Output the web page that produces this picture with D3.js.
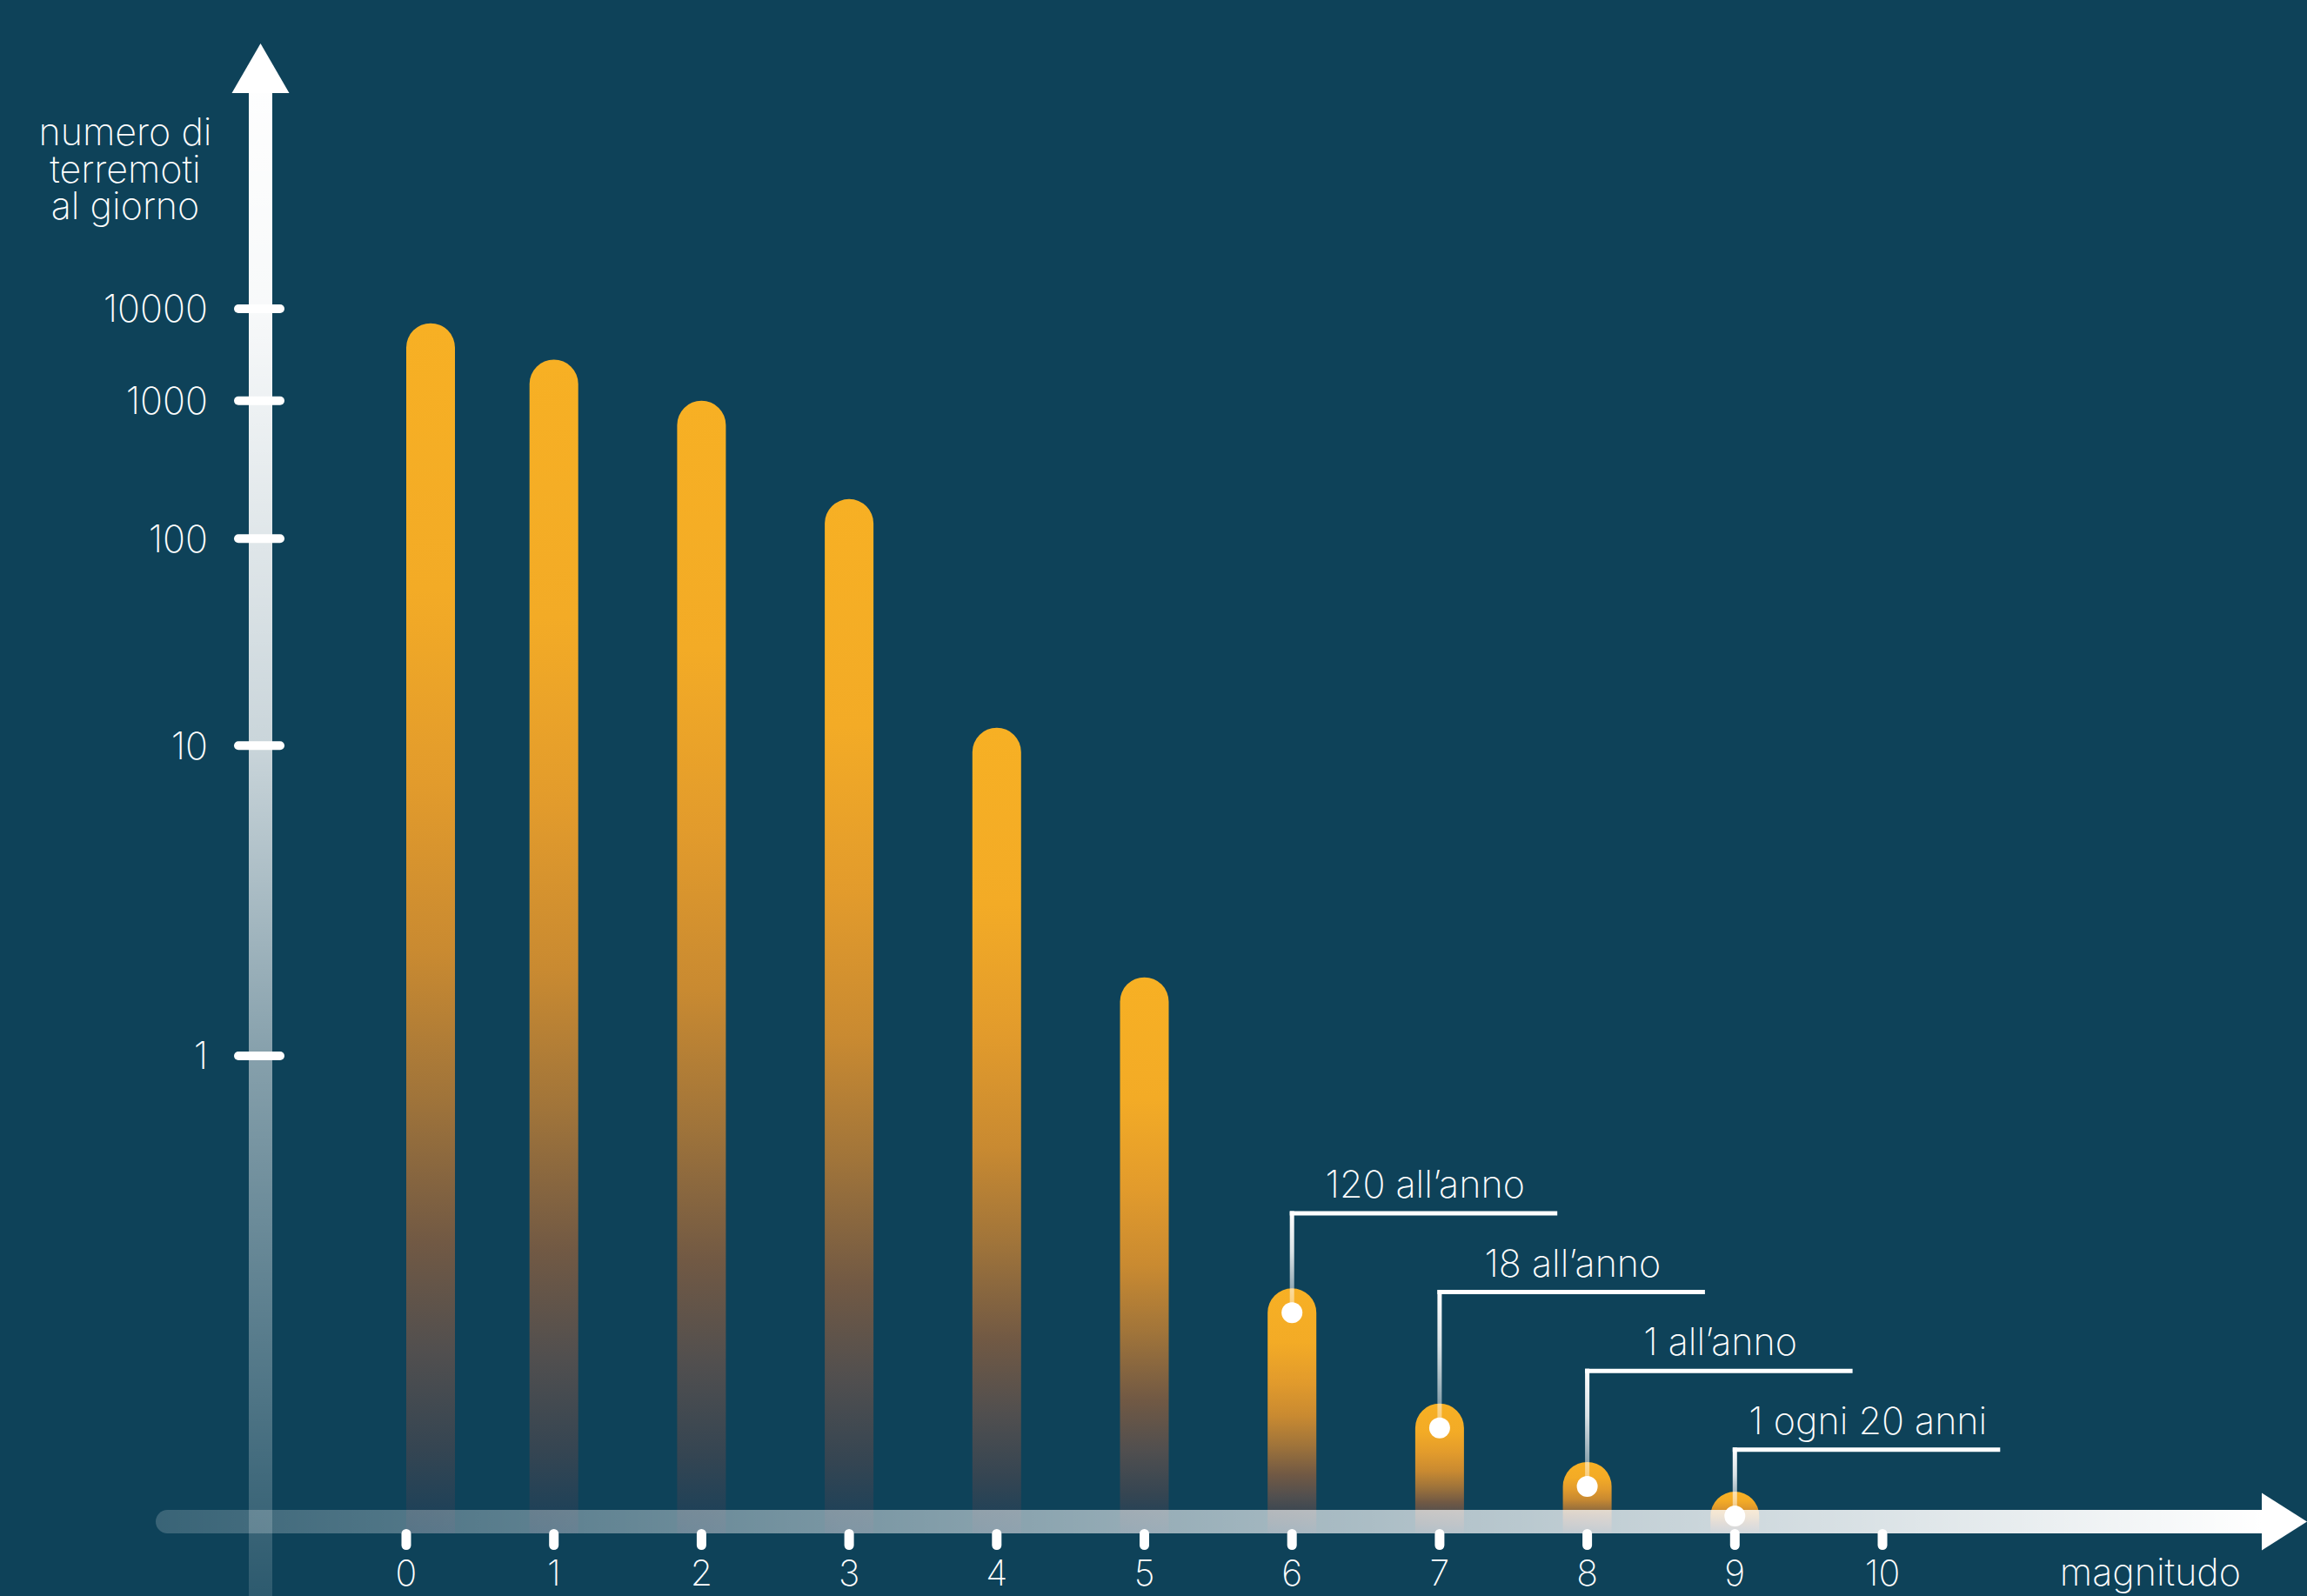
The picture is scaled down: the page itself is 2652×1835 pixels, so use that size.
<!DOCTYPE html>
<html><head><meta charset="utf-8">
<script src="https://cdn.jsdelivr.net/npm/d3@7"></script>
<style>
html,body{margin:0;padding:0;background:#0e4259;}
svg{display:block;}
text{font-family:Inter,"Open Sans",sans-serif;font-weight:200;fill:#ffffff;}
</style></head><body>
<svg id="chart" width="2652" height="1835"></svg>
<script>
// ---- data ----
const magnitudes = [0, 1, 2, 3, 4, 5, 6, 7, 8, 9];
const quakesPerDay = [6500, 2500, 1000, 177, 11.8, 1.65, 0.282, 0.165, 0.128, 0.113];
const xTickValues = [0, 1, 2, 3, 4, 5, 6, 7, 8, 9, 10];
const yTickValues = [1, 10, 100, 1000, 10000];
const yTickLabels = ["1", "10", "100", "1000", "10000"];
const annotatedMagnitudes = [6, 7, 8, 9];
const annotationLabels = ["120 all’anno", "18 all’anno", "1 all’anno", "1 ogni 20 anni"];
const yTitleLines = ["numero di", "terremoti", "al giorno"];
const xTitle = "magnitudo";

// ---- layout ----
const W = 2652, H = 1835;
const BG = "#0e4259";
const yAxisX = 299.5, xAxisY = 1749.5, axisThick = 27;
const barW = 56;
const fontSize = 43;

const svg = d3.select("#chart");
const defs = svg.append("defs");

svg.append("rect").attr("width", W).attr("height", H).attr("fill", BG);

const x = d3.scaleLinear().domain([0, 10]).range([467, 2164]);
const y = d3.scalePow().exponent(-Math.log10(1.5)).domain([1, 10000]).range([1214, 355]);

// gradients
const barGrad = defs.append("linearGradient").attr("id", "barGrad")
  .attr("x1", 0).attr("y1", 0).attr("x2", 0).attr("y2", 1);
[[0, "#f7b024"], [0.22, "#f3ab26"], [0.38, "#e29b2c"], [0.52, "#c98a31"], [0.64, "#a0743a"],
 [0.76, "#715944"], [0.85, "#514f4f"], [0.93, "#354552"], [1, "#17405a"]]
  .forEach(([o, c]) => barGrad.append("stop").attr("offset", o).attr("stop-color", c));

const yAxGrad = defs.append("linearGradient").attr("id", "yAxGrad")
  .attr("gradientUnits", "userSpaceOnUse").attr("x1", 0).attr("y1", 50).attr("x2", 0).attr("y2", H);
[[0, 1], [0.17, 0.97], [0.32, 0.87], [0.45, 0.78], [0.65, 0.5], [0.87, 0.27], [1, 0.13]]
  .forEach(([o, a]) => yAxGrad.append("stop").attr("offset", o).attr("stop-color", "#fff").attr("stop-opacity", a));

const xAxGrad = defs.append("linearGradient").attr("id", "xAxGrad")
  .attr("gradientUnits", "userSpaceOnUse").attr("x1", 179).attr("y1", 0).attr("x2", 2600).attr("y2", 0);
[[0, 0.18], [1, 1]].forEach(([o, a]) => xAxGrad.append("stop").attr("offset", o).attr("stop-color", "#fff").attr("stop-opacity", a));

const leadGrad = defs.append("linearGradient").attr("id", "leadGrad")
  .attr("x1", 0).attr("y1", 0).attr("x2", 0).attr("y2", 1);
[[0, 1], [0.4, 0.85], [1, 0.35]].forEach(([o, a]) => leadGrad.append("stop").attr("offset", o).attr("stop-color", "#fff").attr("stop-opacity", a));

// bars
const data = magnitudes.map((m, i) => ({ m, v: quakesPerDay[i] }));
const barBottom = xAxisY + axisThick / 2;
const r = barW / 2;
const barLeft = d => Math.max(x(d.m) - r, x(0));
svg.append("g").selectAll("path").data(data).join("path")
  .attr("d", d => {
    const x0 = barLeft(d), top = y(d.v);
    return `M${x0},${barBottom}L${x0},${top + r}A${r},${r} 0 0 1 ${x0 + barW},${top + r}L${x0 + barW},${barBottom}Z`;
  })
  .attr("fill", "url(#barGrad)");

// y axis
svg.append("rect").attr("x", yAxisX - axisThick / 2).attr("y", 106).attr("width", axisThick)
  .attr("height", H - 106).attr("fill", "url(#yAxGrad)");
svg.append("path").attr("d", `M${yAxisX},50L${yAxisX + 33},107L${yAxisX - 33},107Z`).attr("fill", "#fff");

// x axis
svg.append("path")
  .attr("d", `M2601,${xAxisY - axisThick / 2}L${179 + axisThick / 2},${xAxisY - axisThick / 2}A${axisThick / 2},${axisThick / 2} 0 0 0 ${179 + axisThick / 2},${xAxisY + axisThick / 2}L2601,${xAxisY + axisThick / 2}Z`)
  .attr("fill", "url(#xAxGrad)");
svg.append("path").attr("d", `M2600,${xAxisY - 33}L2652,${xAxisY}L2600,${xAxisY + 33}Z`).attr("fill", "#fff");

// y ticks + labels
const yt = svg.append("g");
yt.selectAll("rect").data(yTickValues).join("rect")
  .attr("x", 269).attr("y", d => y(d) - 5).attr("width", 58).attr("height", 10).attr("rx", 5)
  .attr("fill", "#fff");
yt.selectAll("text").data(yTickValues).join("text")
  .attr("x", 239).attr("y", d => y(d)).attr("dy", "0.36em").attr("text-anchor", "end")
  .attr("font-size", fontSize).text((d, i) => yTickLabels[i]);

// x ticks + labels
const xt = svg.append("g");
xt.selectAll("rect").data(xTickValues).join("rect")
  .attr("x", d => x(d) - 5.5).attr("y", 1758).attr("width", 11).attr("height", 24).attr("rx", 5.5)
  .attr("fill", "#fff");
xt.selectAll("text").data(xTickValues).join("text")
  .attr("x", d => x(d)).attr("y", 1823).attr("text-anchor", "middle")
  .attr("font-size", 41).text(d => String(d));

// titles
svg.append("g").selectAll("text").data(yTitleLines).join("text")
  .attr("x", 144).attr("y", (d, i) => 167 + i * 42.5).attr("text-anchor", "middle")
  .attr("font-size", fontSize).text(d => d);
svg.append("text").attr("x", 2576).attr("y", 1823).attr("text-anchor", "end")
  .attr("font-size", fontSize).text(xTitle);

// annotations
const ann = annotatedMagnitudes.map((m, i) => {
  const d = data.find(e => e.m === m);
  const dotX = x(m), dotY = y(d.v) + r;
  const lineY = 1395 + i * 90.6;
  return { m, label: annotationLabels[i], dotX, dotY, lineY };
});
const ag = svg.append("g");
ag.selectAll("rect.lead").data(ann).join("rect").attr("class", "lead")
  .attr("x", d => d.dotX - 2.5).attr("y", d => d.lineY - 2.5).attr("width", 5)
  .attr("height", d => d.dotY - d.lineY + 2.5).attr("fill", "url(#leadGrad)");
ag.selectAll("path.hl").data(ann).join("path").attr("class", "hl")
  .attr("d", d => `M${d.dotX - 2.5},${d.lineY}L${d.dotX + 305},${d.lineY}`)
  .attr("stroke", "#fff").attr("stroke-width", 5).attr("fill", "none");
ag.selectAll("circle").data(ann).join("circle")
  .attr("cx", d => d.dotX).attr("cy", d => d.dotY).attr("r", 12).attr("fill", "#fff");
ag.selectAll("text").data(ann).join("text")
  .attr("x", d => d.dotX + 153).attr("y", d => d.lineY - 18).attr("text-anchor", "middle")
  .attr("font-size", fontSize).text(d => d.label);
</script>
</body></html>
